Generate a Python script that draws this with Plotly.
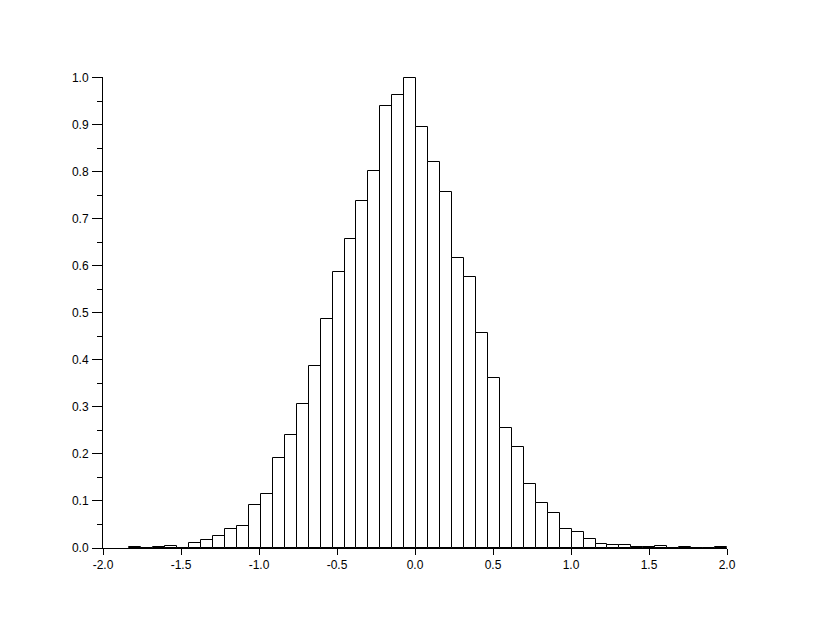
import plotly.graph_objects as go

# Histogram data (normalized so the tallest bin = 1.0)
data_min = -1.831
data_max = 2.0
n_bins = 50
heights = [
    0.002, 0.001, 0.002, 0.005, 0.001, 0.011, 0.016, 0.026, 0.040, 0.047,
    0.091, 0.115, 0.192, 0.240, 0.306, 0.387, 0.488, 0.587, 0.658, 0.739,
    0.803, 0.940, 0.964, 1.000, 0.896, 0.821, 0.757, 0.618, 0.577, 0.457,
    0.362, 0.255, 0.214, 0.136, 0.096, 0.074, 0.040, 0.033, 0.019, 0.009,
    0.007, 0.007, 0.0015, 0.0015, 0.004, 0.0005, 0.002, 0.0005, 0.0005, 0.002,
]
x_ticks = [-2.0, -1.5, -1.0, -0.5, 0.0, 0.5, 1.0, 1.5, 2.0]
x_ticklabels = ["-2.0", "-1.5", "-1.0", "-0.5", "0.0", "0.5", "1.0", "1.5", "2.0"]
y_ticks = [0.0, 0.1, 0.2, 0.3, 0.4, 0.5, 0.6, 0.7, 0.8, 0.9, 1.0]
y_ticklabels = ["0.0", "0.1", "0.2", "0.3", "0.4", "0.5", "0.6", "0.7", "0.8", "0.9", "1.0"]

bin_w = (data_max - data_min) / n_bins
centers = [data_min + (i + 0.5) * bin_w for i in range(n_bins)]

fig = go.Figure(
    go.Bar(
        x=centers,
        y=heights,
        width=[bin_w] * n_bins,
        marker=dict(color="white", line=dict(color="black", width=1)),
        hoverinfo="x+y",
    )
)

font = dict(family="Liberation Sans, Arial, sans-serif", size=12, color="#000000")

fig.update_layout(
    width=830,
    height=626,
    margin=dict(l=95, r=111, t=69, b=86, pad=0),
    paper_bgcolor="white",
    plot_bgcolor="white",
    showlegend=False,
    bargap=0,
    font=font,
)
fig.update_xaxes(
    range=[-2.0, 2.0],
    tickmode="array",
    tickvals=x_ticks,
    ticktext=x_ticklabels,
    ticks="outside",
    ticklen=6,
    tickwidth=1,
    tickcolor="black",
    showline=True,
    linecolor="black",
    linewidth=1,
    showgrid=False,
    zeroline=False,
    tickfont=font,
)
fig.update_yaxes(
    range=[0, 1.002],
    tickmode="array",
    tickvals=y_ticks,
    ticktext=y_ticklabels,
    ticks="outside",
    ticklen=10,
    tickwidth=1,
    tickcolor="black",
    minor=dict(tickmode="linear", tick0=0.05, dtick=0.1, ticks="outside", ticklen=5, tickcolor="black", tickwidth=1),
    showline=True,
    linecolor="black",
    linewidth=1,
    showgrid=False,
    zeroline=False,
    tickfont=font,
    ticklabelstandoff=1,
)

fig.write_html("out.html")
